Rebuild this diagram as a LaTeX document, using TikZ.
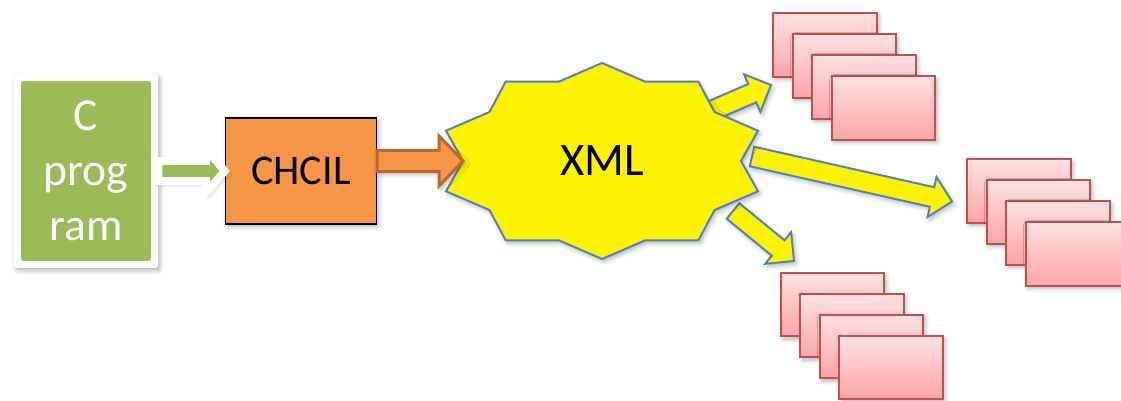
\documentclass[tikz,border=0pt]{standalone}
\usepackage{fontspec}
\setmainfont{Carlito}
\usetikzlibrary{positioning, calc, shadows.blur}

\definecolor{progGreen}{RGB}{155,187,89}
\definecolor{chcilOrange}{RGB}{247,150,70}
\definecolor{chcilEdge}{RGB}{185,105,45}
\definecolor{burstBlue}{RGB}{79,129,189}
\definecolor{cardEdge}{RGB}{192,80,77}
\definecolor{cardTop}{RGB}{255,225,225}
\definecolor{cardBottom}{RGB}{250,165,165}

\tikzset{
  % block arrow: shaft half width, head half width, head length
  fat arrow/.style n args={3}{to path={
    ($(\tikztotarget)!#3!(\tikztostart)$) coordinate (fa base)
    ($(\tikztostart)!#1!90:(\tikztotarget)$)
      -- ($(fa base)!#1!90:(\tikztotarget)$)
      -- ($(fa base)!#2!90:(\tikztotarget)$)
      -- (\tikztotarget)
      -- ($(fa base)!#2!-90:(\tikztotarget)$)
      -- ($(fa base)!#1!-90:(\tikztotarget)$)
      -- ($(\tikztostart)!#1!-90:(\tikztotarget)$)
      -- cycle
  }},
  soft shadow/.style = {blur shadow={shadow xshift=1.2pt, shadow yshift=-1.6pt,
    shadow blur radius=2.5pt, shadow opacity=30}},
  card/.style = {draw=cardEdge, line width=1.1pt, top color=cardTop, bottom color=cardBottom,
    minimum width=2.07cm, minimum height=1.27cm, inner sep=0pt, soft shadow},
}

% four overlapping sheets, back one centred at #2
\newcommand\cardstack[2]{%
  \foreach \k in {0,...,3}
    \node[card] (#1\k) at ($(#2)+(19.5*\k,21*\k)$) {};
}

\begin{document}
\begin{tikzpicture}[
  x=0.02cm, y=-0.02cm,
  progbox/.style = {fill=white, rounded corners=1.5pt, text=white,
    minimum width=2.88cm, minimum height=3.88cm, align=center,
    path picture={\fill[progGreen]
      ([shift={(0.14cm,0.14cm)}]path picture bounding box.south west) rectangle
      ([shift={(-0.14cm,-0.14cm)}]path picture bounding box.north east);},
    font=\fontsize{26}{31.5}\selectfont, soft shadow},
  toolbox/.style = {fill=chcilOrange, draw=black, line width=0.8pt,
    minimum width=3.02cm, minimum height=2.12cm,
    font=\fontsize{24}{29}\selectfont, soft shadow},
  burst/.style = {fill=yellow, draw=burstBlue, line width=1.1pt, soft shadow},
  garrow/.style = {fat arrow={0.2cm}{0.44cm}{0.38cm}, fill=progGreen, draw=white,
    line width=4.5pt, soft shadow},
  oarrow/.style = {fat arrow={0.21cm}{0.5cm}{0.48cm}, fill=chcilOrange, draw=chcilEdge,
    line width=1.7pt, soft shadow},
  yarrow/.style = {fat arrow={0.2cm}{0.41cm}{0.41cm}, fill=yellow, draw=burstBlue,
    line width=1.1pt, soft shadow}
]
  \useasboundingbox (0,0) rectangle (1121,401);

  % Source program and the converter
  \node[progbox] (cprog) at (86,171) {C\\prog\\ram};
  \node[toolbox] (chcil) [right=1.33cm of cprog] {CHCIL};
  \draw[garrow] (cprog.east) to (chcil.west);

  % Output sheets
  \cardstack{top}{825,45}
  \cardstack{right}{1019,191}
  \cardstack{low}{832.5,304.5}

  % Arrows leaving the XML burst
  \coordinate (burst) at (602,161);
  \coordinate (ne out) at (711,111);
  \coordinate (ne tip) at (771,85);
  \coordinate (e out) at (752,156.5);
  \coordinate (e tip) at (952,201.5);
  \coordinate (se out) at (733,211);
  \coordinate (se tip) at (794,261);
  \draw[yarrow] (ne out) to (ne tip);
  \draw[yarrow] (e out) to (e tip);
  \draw[yarrow] (se out) to (se tip);

  % XML burst: ten points on an ellipse
  \path[burst, shift={(burst)}]
    (90:164 and 98)
    \foreach \k in {0,...,9} {
      -- ({108+36*\k}:139 and 83.5) coordinate (xml in\k)
      -- ({126+36*\k}:164 and 98)
    } -- cycle;
  \node[font=\fontsize{26.5}{30}\selectfont] (xml) at (burst) {XML};

  \coordinate (chcil out) at (chcil.east |- xml in2);
  \draw[oarrow] (chcil out) to (xml in2);
\end{tikzpicture}
\end{document}
